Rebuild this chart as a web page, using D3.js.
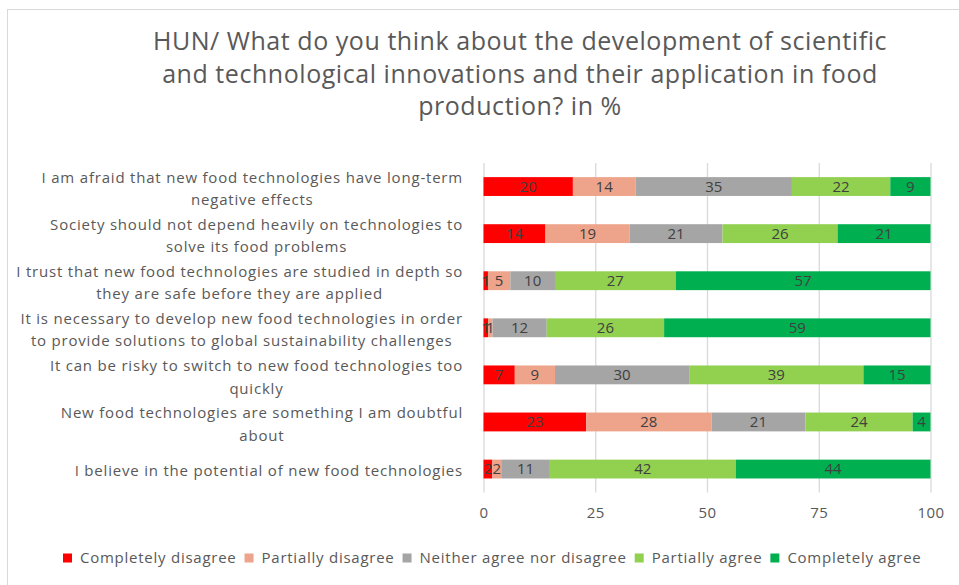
<!DOCTYPE html>
<html>
<head>
<meta charset="utf-8">
<script src="https://cdn.jsdelivr.net/npm/d3@7"></script>
<style>
  html, body { margin: 0; padding: 0; background: #fff; }
  svg { display: block; }
  text { font-family: "Open Sans", "Noto Sans", sans-serif; }
</style>
</head>
<body>
<svg id="chart" width="959" height="585"></svg>
<script>
// Survey statements (top to bottom), wrapped as shown on the axis
const categories = [
  ["I am afraid that new food technologies have long-term", "negative effects"],
  ["Society should not depend heavily on technologies to", "solve its food problems"],
  ["I trust that new food technologies are studied in depth so", "they are safe before they are applied"],
  ["It is necessary to develop new food technologies in order", "to provide solutions to global sustainability challenges"],
  ["It can be risky to switch to new food technologies too", "quickly"],
  ["New food technologies are something I am doubtful", "about"],
  ["I believe in the potential of new food technologies"]
];

const seriesNames = [
  "Completely disagree",
  "Partially disagree",
  "Neither agree nor disagree",
  "Partially agree",
  "Completely agree"
];

// Percent answering each option, one array per series, in category order
const completelyDisagree = [20, 14, 1, 1, 7, 23, 2];
const partiallyDisagree  = [14, 19, 5, 1, 9, 28, 2];
const neitherAgree       = [35, 21, 10, 12, 30, 21, 11];
const partiallyAgree     = [22, 26, 27, 26, 39, 24, 42];
const completelyAgree    = [9, 21, 57, 59, 15, 4, 44];

const xTicks = [0, 25, 50, 75, 100];
const titleLines = [
  "HUN/ What do you think about the development of scientific",
  "and technological innovations and their application in food",
  "production? in %"
];

const colors = ["#ff0000", "#eea48a", "#a5a5a5", "#92d050", "#00b050"];
const seriesValues = [completelyDisagree, partiallyDisagree, neitherAgree, partiallyAgree, completelyAgree];

const rows = categories.map((c, i) => {
  const r = { idx: i };
  seriesNames.forEach((s, k) => { r[s] = seriesValues[k][i]; });
  return r;
});

const svg = d3.select("#chart");

// chart frame
svg.append("rect")
  .attr("x", 7.5).attr("y", 9.5)
  .attr("width", 1000).attr("height", 1000)
  .attr("fill", "none").attr("stroke", "#d9d9d9");

// title
svg.append("g").selectAll("text")
  .data(titleLines).join("text")
  .attr("x", 520)
  .attr("y", (d, i) => 50 + i * 32.7)
  .attr("text-anchor", "middle")
  .attr("fill", "#595959")
  .style("font-size", "25px")
  .style("letter-spacing", "0.55px")
  .text(d => d);

// 100% stacked bars: each row is expanded to its own total
const x = d3.scaleLinear().domain([0, 1]).range([483.5, 930.5]);
const y = d3.scaleBand()
  .domain(d3.range(categories.length))
  .range([163, 492.6])
  .paddingInner(0.6)
  .paddingOuter(0.3);

const tickVals = xTicks.map(v => v / 100);

// vertical gridlines
svg.append("g")
  .attr("transform", `translate(0,${y.range()[1]})`)
  .call(d3.axisBottom(x).tickValues(tickVals).tickSize(-(y.range()[1] - y.range()[0])).tickFormat(""))
  .call(g => g.select(".domain").remove())
  .call(g => g.selectAll(".tick line").attr("stroke", "#d9d9d9").attr("stroke-width", 1.3));

// tick labels
svg.append("g")
  .attr("transform", `translate(0,${y.range()[1]})`)
  .call(d3.axisBottom(x).tickValues(tickVals).tickSize(0).tickPadding(15)
    .tickFormat((d, i) => xTicks[i]))
  .call(g => g.select(".domain").remove())
  .call(g => g.selectAll(".tick text")
    .attr("fill", "#595959")
    .style("font-size", "15px")
    .style("letter-spacing", "0.5px")
    .style("font-family", "'Open Sans', sans-serif"));

const stacked = d3.stack().keys(seriesNames).offset(d3.stackOffsetExpand)(rows);
const layers = svg.append("g").selectAll("g")
  .data(stacked).join("g")
  .attr("fill", (d, i) => colors[i]);

layers.selectAll("rect")
  .data(d => d).join("rect")
  .attr("x", d => x(d[0]))
  .attr("y", d => y(d.data.idx))
  .attr("width", d => x(d[1]) - x(d[0]))
  .attr("height", y.bandwidth());

// value labels
const labels = svg.append("g").selectAll("g")
  .data(stacked).join("g");
labels.selectAll("text")
  .data(d => d.map(p => ({ p, key: d.key }))).join("text")
  .attr("x", d => (x(d.p[0]) + x(d.p[1])) / 2)
  .attr("y", d => y(d.p.data.idx) + y.bandwidth() / 2)
  .attr("dy", "0.36em")
  .attr("text-anchor", "middle")
  .attr("fill", "#404040")
  .style("font-size", "15px")
  .text(d => d.p.data[d.key]);

// category labels, each wrapped block centred and right-aligned to the axis
const catG = svg.append("g");
const labelRight = 463;
const lineH = 22.5;
categories.forEach((lines, i) => {
  const g = catG.append("g");
  const cy = y(i) + y.bandwidth() / 2 + 2;
  const texts = g.selectAll("text").data(lines).join("text")
    .attr("y", (d, k) => cy + (k - (lines.length - 1) / 2) * lineH)
    .attr("dy", "0.36em")
    .attr("text-anchor", "middle")
    .attr("fill", "#595959")
    .style("font-size", "15px")
    .style("letter-spacing", "0.8px")
    .text(d => d);
  const maxW = d3.max(texts.nodes(), n => n.getComputedTextLength());
  texts.attr("x", labelRight - maxW / 2);
});

// legend
const legend = svg.append("g").attr("transform", "translate(63,558)");
let lx = 0;
seriesNames.forEach((name, i) => {
  const item = legend.append("g").attr("transform", `translate(${lx},0)`);
  item.append("rect")
    .attr("x", 0).attr("y", -4.5)
    .attr("width", 9).attr("height", 9)
    .attr("fill", colors[i]);
  const t = item.append("text")
    .attr("x", 17).attr("y", 0).attr("dy", "0.36em")
    .attr("fill", "#595959")
    .style("font-size", "15px")
    .style("letter-spacing", "0.75px")
    .text(name);
  lx += 17 + t.node().getComputedTextLength() + 8;
});
</script>
</body>
</html>
